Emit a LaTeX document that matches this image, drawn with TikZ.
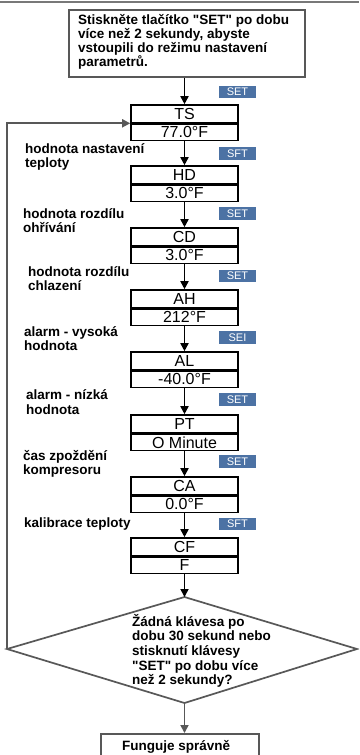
\documentclass[tikz,border=0pt]{standalone}
\usepackage{fontspec}
\setmainfont{Liberation Sans}[Ligatures=TeXOff]
\usetikzlibrary{arrows.meta}

\definecolor{badgeblue}{RGB}{76,114,164}
\definecolor{framegray}{RGB}{88,88,88}
\definecolor{rulegray}{RGB}{120,120,120}

\tikzset{
  half/.style={draw=black, line width=1.6pt, minimum width=107pt, inner sep=0pt,
    font=\fontsize{16}{16}\selectfont},
  flow/.style={line width=1.7pt, -{Triangle[width=8pt,length=8pt]}},
  back/.style={draw=framegray, line width=1.7pt, -{Triangle[width=8pt,length=8pt]}},
  lbl/.style={anchor=base west, align=left, inner sep=0pt,
    font=\fontsize{13.5}{14.5}\selectfont\bfseries},
  badge/.style={fill=badgeblue, text=white, minimum width=37pt, minimum height=12.5pt,
    inner sep=0pt, font=\fontsize{11}{11}\selectfont},
}

% a two-part parameter box: name, top edge, upper text, lower text
\newcommand\parambox[4]{%
  \node[half, minimum height=17.5pt] (#1a) at (184.5,{#2+8.75}) {#3};
  \node[half, minimum height=16.5pt, anchor=north] (#1b) at (#1a.south) {#4};
}

\begin{document}
\begin{tikzpicture}[x=1pt, y=-1pt]
  \clip (0,0) rectangle (359,755);
  \fill[white] (0,0) rectangle (359,755);
  \draw[rulegray, line width=1.2pt] (0,2) -- (359,2);

  % start box and its text
  \node[draw=framegray, line width=2.4pt, minimum width=236pt, minimum height=67pt]
    (start) at (187,43.5) {};
  \node[lbl, font=\fontsize{13.5}{13.6}\selectfont\bfseries] (starttext) at (78,66.7)
    {Stiskněte tlačítko "SET" po dobu\\více než 2 sekundy, abyste\\vstoupili do režimu nastavení\\parametrů.};

  % parameter boxes
  \parambox{ts}{105}{TS}{77.0°F}
  \parambox{hd}{166}{HD}{3.0°F}
  \parambox{cd}{228}{CD}{3.0°F}
  \parambox{ah}{290}{AH}{212°F}
  \parambox{al}{352}{AL}{-40.0°F}
  \parambox{pt}{415}{PT}{O Minute}
  \parambox{ca}{477}{CA}{0.0°F}
  \parambox{cf}{538}{CF}{F}

  % SET key badges
  \node[badge] (k1) at (237.5,92)    {SET};
  \node[badge] (k2) at (237.5,153.5) {SFT};
  \node[badge] (k3) at (237.5,213.5) {SET};
  \node[badge] (k4) at (237.5,276)   {SET};
  \node[badge] (k5) at (237.5,337.5) {SEI};
  \node[badge] (k6) at (237.5,399.5) {SET};
  \node[badge] (k7) at (237.5,461.5) {SET};
  \node[badge] (k8) at (237.5,524)   {SFT};

  % parameter descriptions (base = baseline of the last line)
  \node[lbl] (l1) at (25,167.5) {hodnota nastavení\\teploty};
  \node[lbl] (l2) at (23,232.5) {hodnota rozdílu\\ohřívání};
  \node[lbl] (l3) at (28,290.5) {hodnota rozdílu\\chlazení};
  \node[lbl] (l4) at (24,350.5) {alarm - vysoká\\hodnota};
  \node[lbl] (l5) at (26,414)   {alarm - nízká\\hodnota};
  \node[lbl] (l6) at (23,474.5) {čas zpoždění\\kompresoru};
  \node[lbl] (l7) at (24,527.7) {kalibrace teploty};

  % decision
  \coordinate (dtop)   at (184.5,597);
  \coordinate (dleft)  at (7,649);
  \coordinate (dright) at (357,649);
  \coordinate (dbot)   at (184.5,703);
  \draw[draw=framegray, line width=1.7pt, line join=miter]
    (dtop) -- (dright) -- (dbot) -- (dleft) -- cycle;
  \node[lbl, font=\fontsize{13.5}{14.7}\selectfont\bfseries] (q) at (132,684.8)
    {Žádná klávesa po\\dobu 30 sekund nebo\\stisknutí klávesy\\"SET" po dobu více\\než 2 sekundy?};

  % end box
  \node[draw=framegray, line width=2.2pt, minimum width=158pt, minimum height=40pt,
        anchor=north] (ok) at (180,733) {};
  \node[lbl] (oktext) at (122,750) {Funguje správně};

  % connectors
  \draw[flow] (tsa.north |- start.south) -- (tsa.north);
  \draw[flow] (tsb.south) -- (hda.north);
  \draw[flow] (hdb.south) -- (cda.north);
  \draw[flow] (cdb.south) -- (aha.north);
  \draw[flow] (ahb.south) -- (ala.north);
  \draw[flow] (alb.south) -- (pta.north);
  \draw[flow] (ptb.south) -- (caa.north);
  \draw[flow] (cab.south) -- (cfa.north);
  \draw[flow] (cfb.south) -- (dtop);
  \draw[back] (dbot) -- (ok.north -| dbot);
  \draw[back] (dleft) |- (tsa.south west);
\end{tikzpicture}
\end{document}
